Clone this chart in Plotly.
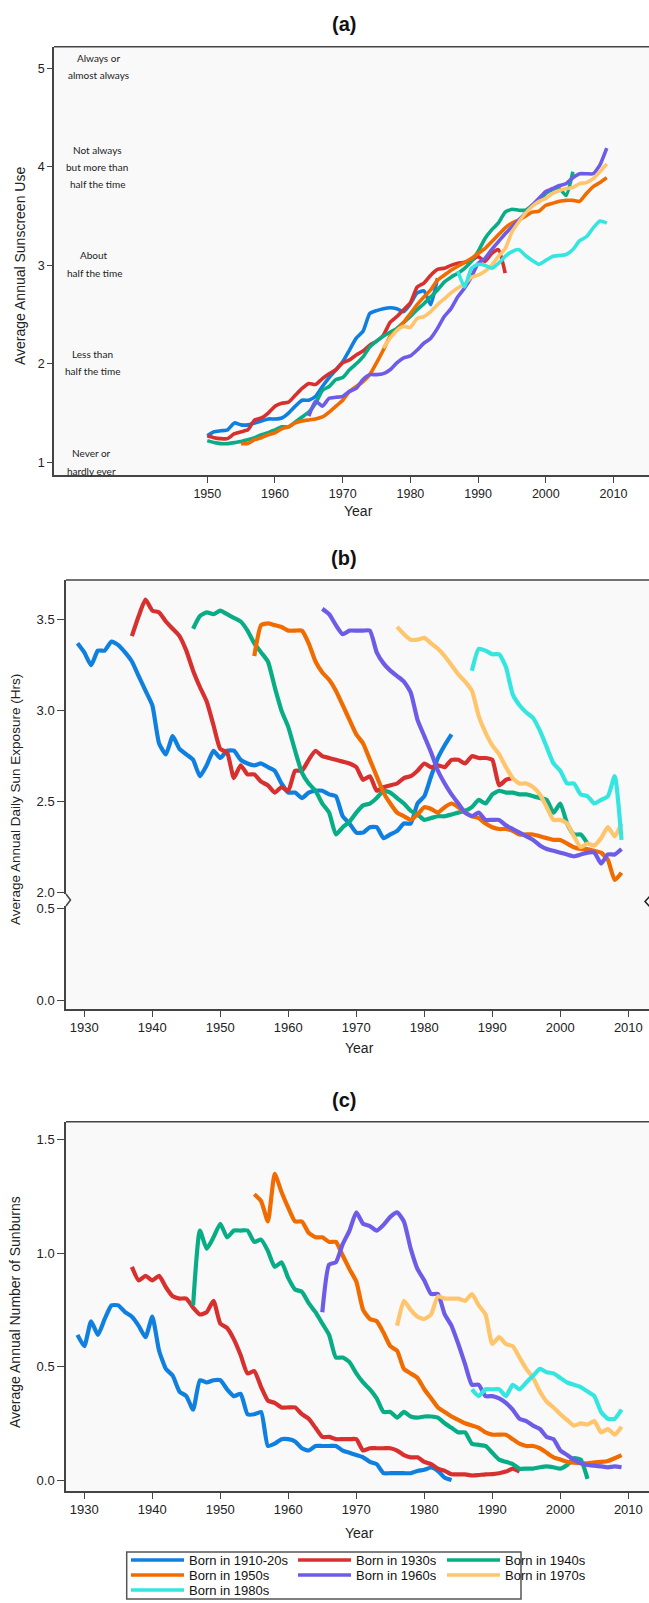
import plotly.graph_objects as go

W, H = 649, 1603
FONT = "Liberation Sans, Arial, sans-serif"


def px(x):
    return x / W


def py(y):
    return 1 - y / H


LABELS = ["Born in 1910-20s", "Born in 1930s", "Born in 1940s", "Born in 1950s",
          "Born in 1960s", "Born in 1970s", "Born in 1980s"]
COLORS = ["#0F7FE0", "#D7302F", "#08AD86", "#F06C00", "#6D5CE8", "#FFC56C", "#35E5E0"]

# ---------------- (a) Average annual sunscreen use ----------------
sun_start = [1950, 1950, 1950, 1955, 1965, 1976, 1987]
sunscreen_1910 = [1.27, 1.31, 1.32, 1.33, 1.40, 1.38, 1.38, 1.40, 1.42, 1.44,
                  1.44, 1.45, 1.50, 1.57, 1.63, 1.63, 1.67, 1.77, 1.86, 1.94,
                  2.02, 2.14, 2.26, 2.33, 2.51, 2.54, 2.56, 2.57, 2.56, 2.53,
                  2.61, 2.72, 2.74, 2.60, 2.87]
sunscreen_1930 = [1.27, 1.25, 1.24, 1.24, 1.29, 1.31, 1.33, 1.43, 1.45, 1.50,
                  1.57, 1.60, 1.61, 1.68, 1.75, 1.80, 1.79, 1.85, 1.90, 1.94,
                  2.01, 2.04, 2.09, 2.13, 2.19, 2.23, 2.29, 2.42, 2.48, 2.55,
                  2.62, 2.78, 2.82, 2.90, 2.96, 2.97, 3.00, 3.02, 3.03, 3.05,
                  3.09, 3.04, 3.12, 3.16, 2.92]
sunscreen_1940 = [1.22, 1.20, 1.19, 1.19, 1.20, 1.21, 1.23, 1.25, 1.28, 1.30,
                  1.33, 1.36, 1.36, 1.41, 1.46, 1.51, 1.60, 1.73, 1.77, 1.84,
                  1.86, 1.94, 2.00, 2.07, 2.17, 2.23, 2.28, 2.32, 2.36, 2.42,
                  2.48, 2.55, 2.61, 2.68, 2.75, 2.83, 2.88, 2.92, 2.97, 3.04,
                  3.14, 3.27, 3.36, 3.43, 3.54, 3.57, 3.56, 3.56, 3.61, 3.65,
                  3.73, 3.77, 3.78, 3.71, 3.95]
sunscreen_1950 = [1.19, 1.19, 1.23, 1.25, 1.28,
                  1.30, 1.34, 1.36, 1.40, 1.42, 1.43, 1.44, 1.46, 1.51, 1.57,
                  1.63, 1.72, 1.77, 1.82, 1.89, 2.01, 2.14, 2.28, 2.34, 2.42,
                  2.51, 2.60, 2.68, 2.75, 2.85, 2.90, 2.95, 2.99, 3.03, 3.07,
                  3.12, 3.17, 3.24, 3.31, 3.38, 3.43, 3.46, 3.50, 3.54, 3.55,
                  3.61, 3.63, 3.65, 3.66, 3.66, 3.65, 3.73, 3.80, 3.84, 3.89]
sunscreen_1960 = [1.47, 1.62, 1.57, 1.65, 1.66,
                  1.67, 1.72, 1.75, 1.84, 1.89, 1.89, 1.90, 1.94, 2.01, 2.06,
                  2.08, 2.14, 2.21, 2.26, 2.36, 2.48, 2.56, 2.68, 2.77, 2.88,
                  3.02, 3.07, 3.16, 3.24, 3.32, 3.39, 3.46, 3.53, 3.61, 3.68,
                  3.75, 3.78, 3.81, 3.83, 3.89, 3.93, 3.93, 3.93, 4.02, 4.19]
sunscreen_1970 = [2.16, 2.26, 2.34, 2.38,
                  2.37, 2.46, 2.48, 2.53, 2.60, 2.66, 2.72, 2.77, 2.81, 2.88,
                  2.90, 2.94, 3.00, 3.09, 3.17, 3.34, 3.44, 3.53, 3.60, 3.65,
                  3.68, 3.73, 3.76, 3.78, 3.79, 3.83, 3.84, 3.88, 3.95, 4.03]
sunscreen_1980 = [2.94, 2.78, 2.97,
                  3.01, 3.00, 2.97, 3.02, 3.09, 3.14, 3.16, 3.10, 3.05, 3.01,
                  3.05, 3.09, 3.10, 3.11, 3.16, 3.25, 3.29, 3.38, 3.45, 3.43]
SUNSCREEN = [sunscreen_1910, sunscreen_1930, sunscreen_1940, sunscreen_1950,
             sunscreen_1960, sunscreen_1970, sunscreen_1980]
SUNSCREEN_TICKS = [1950, 1960, 1970, 1980, 1990, 2000, 2010]
SUNSCREEN_CATS = [["Always or", "almost always"],
                  ["Not always", "but more than", "half the time"],
                  ["About", "half the time"],
                  ["Less than", "half the time"],
                  ["Never or", "hardly ever"]]

# ---------------- (b) Average annual daily sun exposure ----------------
exp_start = [1929, 1937, 1946, 1955, 1965, 1976, 1987]
exposure_1910 = [3.37,
                 3.32, 3.25, 3.33, 3.33, 3.38, 3.36, 3.32, 3.27, 3.19, 3.11,
                 3.03, 2.82, 2.76, 2.86, 2.79, 2.76, 2.73, 2.64, 2.70, 2.78,
                 2.74, 2.78, 2.78, 2.73, 2.71, 2.70, 2.71, 2.69, 2.67, 2.60,
                 2.55, 2.55, 2.52, 2.55, 2.56, 2.56, 2.54, 2.53, 2.42, 2.38,
                 2.33, 2.33, 2.36, 2.36, 2.30, 2.32, 2.34, 2.38, 2.38, 2.49,
                 2.53, 2.64, 2.74, 2.81, 2.87]
exposure_1930 = [3.41, 3.52, 3.61,
                 3.55, 3.54, 3.49, 3.45, 3.41, 3.33, 3.22, 3.13, 3.05, 2.92,
                 2.79, 2.77, 2.63, 2.70, 2.65, 2.65, 2.61, 2.59, 2.55, 2.58,
                 2.56, 2.67, 2.67, 2.73, 2.78, 2.75, 2.74, 2.73, 2.72, 2.71,
                 2.69, 2.62, 2.64, 2.56, 2.58, 2.59, 2.60, 2.63, 2.64, 2.67,
                 2.71, 2.69, 2.70, 2.69, 2.73, 2.73, 2.71, 2.75, 2.74, 2.74,
                 2.73, 2.59, 2.62, 2.63]
exposure_1940 = [3.45, 3.52, 3.54, 3.53,
                 3.55, 3.53, 3.51, 3.49, 3.44, 3.37, 3.32, 3.27, 3.13, 3.00,
                 2.91, 2.78, 2.66, 2.60, 2.56, 2.49, 2.44, 2.32, 2.36, 2.39,
                 2.44, 2.48, 2.49, 2.52, 2.56, 2.55, 2.52, 2.49, 2.45, 2.43,
                 2.40, 2.41, 2.42, 2.42, 2.43, 2.44, 2.45, 2.47, 2.51, 2.49,
                 2.54, 2.56, 2.55, 2.55, 2.54, 2.54, 2.53, 2.52, 2.51, 2.44,
                 2.49, 2.38, 2.32, 2.32, 2.27]
exposure_1950 = [3.30, 3.47, 3.48, 3.47, 3.46,
                 3.44, 3.44, 3.44, 3.37, 3.27, 3.21, 3.17, 3.11, 3.03, 2.95,
                 2.87, 2.82, 2.73, 2.64, 2.55, 2.49, 2.44, 2.42, 2.40, 2.43,
                 2.47, 2.46, 2.44, 2.47, 2.49, 2.47, 2.44, 2.42, 2.41, 2.38,
                 2.36, 2.35, 2.35, 2.34, 2.32, 2.32, 2.32, 2.31, 2.30, 2.29,
                 2.29, 2.27, 2.25, 2.24, 2.24, 2.23, 2.22, 2.18, 2.07, 2.11]
exposure_1960 = [3.56, 3.53, 3.47, 3.42, 3.44,
                 3.44, 3.44, 3.44, 3.32, 3.26, 3.22, 3.19, 3.16, 3.10, 2.95,
                 2.86, 2.77, 2.67, 2.60, 2.54, 2.49, 2.44, 2.42, 2.44, 2.40,
                 2.40, 2.40, 2.37, 2.35, 2.33, 2.31, 2.29, 2.26, 2.24, 2.23,
                 2.22, 2.21, 2.20, 2.21, 2.22, 2.22, 2.16, 2.21, 2.21, 2.24]
exposure_1970 = [3.46, 3.42, 3.39, 3.39,
                 3.40, 3.37, 3.34, 3.30, 3.25, 3.20, 3.16, 3.11, 2.97, 2.88,
                 2.81, 2.76, 2.69, 2.63, 2.60, 2.60, 2.58, 2.54, 2.47, 2.40,
                 2.40, 2.38, 2.31, 2.25, 2.27, 2.26, 2.30, 2.36, 2.31, 2.38]
exposure_1980 = [3.22, 3.34, 3.33,
                 3.31, 3.31, 3.24, 3.09, 3.03, 2.99, 2.96, 2.89, 2.80, 2.71,
                 2.67, 2.60, 2.60, 2.54, 2.53, 2.49, 2.51, 2.53, 2.64, 2.29]
EXPOSURE = [exposure_1910, exposure_1930, exposure_1940, exposure_1950,
            exposure_1960, exposure_1970, exposure_1980]

# ---------------- (c) Average annual number of sunburns ----------------
burn_start = [1929, 1937, 1946, 1955, 1965, 1976, 1987]
sunburn_1910 = [0.64,
                0.59, 0.70, 0.64, 0.71, 0.77, 0.77, 0.74, 0.72, 0.68, 0.63,
                0.72, 0.57, 0.49, 0.46, 0.39, 0.37, 0.31, 0.44, 0.43, 0.44,
                0.44, 0.40, 0.37, 0.38, 0.29, 0.29, 0.30, 0.15, 0.16, 0.18,
                0.18, 0.17, 0.14, 0.13, 0.15, 0.15, 0.15, 0.15, 0.13, 0.12,
                0.11, 0.10, 0.08, 0.07, 0.03, 0.03, 0.03, 0.03, 0.03, 0.04,
                0.045, 0.055, 0.04, 0.01, 0.00]
sunburn_1930 = [0.94, 0.88, 0.90,
                0.88, 0.90, 0.85, 0.81, 0.80, 0.80, 0.76, 0.73, 0.74, 0.79,
                0.69, 0.67, 0.62, 0.55, 0.47, 0.48, 0.41, 0.35, 0.34, 0.32,
                0.32, 0.32, 0.29, 0.27, 0.23, 0.19, 0.19, 0.18, 0.18, 0.18,
                0.18, 0.13, 0.14, 0.14, 0.14, 0.14, 0.13, 0.11, 0.10, 0.10,
                0.08, 0.07, 0.05, 0.04, 0.025, 0.025, 0.025, 0.02, 0.022, 0.025,
                0.026, 0.03, 0.037, 0.05, 0.037]
sunburn_1940 = [0.77, 1.10, 1.02, 1.07,
                1.13, 1.07, 1.10, 1.10, 1.10, 1.05, 1.06, 1.01, 0.94, 0.96,
                0.89, 0.84, 0.83, 0.78, 0.74, 0.69, 0.64, 0.54, 0.54, 0.52,
                0.47, 0.43, 0.40, 0.36, 0.30, 0.30, 0.275, 0.30, 0.28, 0.275,
                0.28, 0.28, 0.275, 0.25, 0.23, 0.21, 0.21, 0.16, 0.155, 0.15,
                0.12, 0.09, 0.08, 0.07, 0.05, 0.05, 0.05, 0.056, 0.06, 0.056,
                0.05, 0.066, 0.096, 0.09, 0.005]
sunburn_1950 = [1.26, 1.23, 1.14, 1.35, 1.27,
                1.20, 1.14, 1.14, 1.09, 1.07, 1.07, 1.05, 1.05, 0.99, 0.93,
                0.875, 0.75, 0.71, 0.70, 0.65, 0.59, 0.57, 0.49, 0.47, 0.45,
                0.40, 0.36, 0.32, 0.30, 0.28, 0.265, 0.25, 0.24, 0.23, 0.21,
                0.20, 0.20, 0.20, 0.18, 0.16, 0.15, 0.15, 0.14, 0.12, 0.10,
                0.09, 0.08, 0.076, 0.074, 0.074, 0.078, 0.08, 0.084, 0.096, 0.11]
sunburn_1960 = [0.74, 0.95, 0.96, 1.04, 1.10,
                1.18, 1.13, 1.12, 1.10, 1.125, 1.16, 1.18, 1.14, 1.02, 0.93,
                0.88, 0.82, 0.82, 0.73, 0.68, 0.60, 0.51, 0.42, 0.42, 0.37,
                0.37, 0.36, 0.34, 0.31, 0.27, 0.26, 0.24, 0.225, 0.19, 0.18,
                0.13, 0.11, 0.09, 0.074, 0.066, 0.063, 0.06, 0.056, 0.06, 0.056]
sunburn_1970 = [0.68, 0.79, 0.75, 0.72,
                0.71, 0.73, 0.81, 0.80, 0.80, 0.80, 0.79, 0.82, 0.77, 0.73,
                0.60, 0.63, 0.60, 0.59, 0.54, 0.49, 0.45, 0.39, 0.345, 0.32,
                0.29, 0.265, 0.24, 0.25, 0.245, 0.26, 0.21, 0.225, 0.20, 0.235]
sunburn_1980 = [0.40, 0.37, 0.40,
                0.40, 0.40, 0.37, 0.42, 0.40, 0.43, 0.46, 0.49, 0.475, 0.47,
                0.45, 0.43, 0.42, 0.41, 0.39, 0.37, 0.30, 0.27, 0.27, 0.31]
SUNBURN = [sunburn_1910, sunburn_1930, sunburn_1940, sunburn_1950,
           sunburn_1960, sunburn_1970, sunburn_1980]
DECADE_TICKS = [1930, 1940, 1950, 1960, 1970, 1980, 1990, 2000, 2010]

LEGEND_IDS = ["legend", "legend2", "legend3", "legend4", "legend5", "legend6", "legend7"]
SMOOTH = dict(shape="spline", smoothing=0.5)

fig = go.Figure()
for i, label in enumerate(LABELS):
    yrs = list(range(sun_start[i], sun_start[i] + len(SUNSCREEN[i])))
    fig.add_trace(go.Scatter(x=yrs, y=SUNSCREEN[i], mode="lines", name=label,
                             line=dict(color=COLORS[i], width=3.6, **SMOOTH),
                             legend=LEGEND_IDS[i], showlegend=True,
                             xaxis="x", yaxis="y"))
for i, label in enumerate(LABELS):
    yrs = list(range(exp_start[i], exp_start[i] + len(EXPOSURE[i])))
    fig.add_trace(go.Scatter(x=yrs, y=EXPOSURE[i], mode="lines", name=label,
                             line=dict(color=COLORS[i], width=4.2, **SMOOTH),
                             showlegend=False, xaxis="x2", yaxis="y2"))
# empty carrier trace so the lower (broken) part of panel (b) exists as a subplot
fig.add_trace(go.Scatter(x=[], y=[], mode="lines", showlegend=False,
                         hoverinfo="skip", xaxis="x2", yaxis="y3"))
for i, label in enumerate(LABELS):
    yrs = list(range(burn_start[i], burn_start[i] + len(SUNBURN[i])))
    fig.add_trace(go.Scatter(x=yrs, y=SUNBURN[i], mode="lines", name=label,
                             line=dict(color=COLORS[i], width=4.2, **SMOOTH),
                             showlegend=False, xaxis="x3", yaxis="y4"))

AX = dict(showgrid=False, zeroline=False, showline=True, linecolor="#444",
          linewidth=1.5, ticks="outside", tickcolor="#444", tickwidth=1.2,
          tickfont=dict(family=FONT, size=13, color="#222"))

fig.update_layout(
    width=W, height=H,
    margin=dict(l=0, r=0, t=0, b=0, autoexpand=False),
    paper_bgcolor="white", plot_bgcolor="rgba(0,0,0,0)",
    font=dict(family=FONT, color="#222"),
    xaxis=dict(AX, domain=[px(54), 1], range=[1927.36, 2015.24], anchor="y",
               tickvals=SUNSCREEN_TICKS, ticklen=6,
               tickfont=dict(family=FONT, size=12.5, color="#222")),
    yaxis=dict(AX, domain=[py(475), py(46.7)], range=[0.871, 5.22], anchor="x",
               tickvals=[1, 2, 3, 4, 5], ticklen=5,
               tickfont=dict(family=FONT, size=12.5, color="#222")),
    xaxis2=dict(AX, domain=[px(66), 1], range=[1927.31, 2013.04], anchor="y3",
                tickvals=DECADE_TICKS, ticklen=6),
    yaxis2=dict(AX, domain=[py(894), py(580)], range=[1.9929, 3.718], anchor="x2",
                tickvals=[2.0, 2.5, 3.0, 3.5], tickformat=".1f", ticklen=7),
    yaxis3=dict(AX, domain=[py(1009), py(906)], range=[-0.049, 0.5125], anchor="x2",
                tickvals=[0.0, 0.5], tickformat=".1f", ticklen=7),
    xaxis3=dict(AX, domain=[px(66), 1], range=[1927.31, 2013.04], anchor="y4",
                tickvals=DECADE_TICKS, ticklen=6),
    yaxis4=dict(AX, domain=[py(1491), py(1121.7)], range=[-0.0485, 1.58], anchor="x3",
                tickvals=[0.0, 0.5, 1.0, 1.5], tickformat=".1f", ticklen=7),
)

# legends: one per entry, laid out as 3 columns x 3 rows
leg_cols = [131, 298, 447]
leg_rows = [1561, 1576, 1591]
for i, lid in enumerate(LEGEND_IDS):
    col, row = i % 3, i // 3
    fig.update_layout(**{lid: dict(
        x=px(leg_cols[col] - 5), xanchor="left",
        y=py(leg_rows[row] - 1), yanchor="middle",
        orientation="v", bgcolor="rgba(0,0,0,0)", borderwidth=0,
        itemwidth=53, font=dict(family=FONT, size=13, color="#111"),
        tracegroupgap=0)})

shapes = []
# panel backgrounds and top frame lines
for x0, y0, y1 in [(54, 46.7, 475), (66, 580, 1009), (66, 1121.7, 1491)]:
    shapes.append(dict(type="rect", xref="paper", yref="paper", layer="below",
                       x0=px(x0), x1=1, y0=py(y1), y1=py(y0),
                       fillcolor="#F9F9F9", line=dict(width=0)))
    shapes.append(dict(type="line", xref="paper", yref="paper",
                       x0=px(x0), x1=1, y0=py(y0), y1=py(y0),
                       line=dict(color="#444", width=1.5)))
# axis-break marks on panel (b)
shapes.append(dict(type="path", xref="paper", yref="paper",
                   path=f"M{px(66)},{py(894)} L{px(70.5)},{py(900)} L{px(66)},{py(906)}",
                   line=dict(color="#444", width=1.5)))
shapes.append(dict(type="path", xref="paper", yref="paper",
                   path=f"M{px(650)},{py(896)} L{px(645)},{py(901.5)} L{px(650)},{py(907)}",
                   line=dict(color="#222", width=1.5)))
# legend box
shapes.append(dict(type="rect", xref="paper", yref="paper",
                   x0=px(126.7), x1=px(521), y0=py(1599), y1=py(1552),
                   line=dict(color="#555", width=1.5), fillcolor="rgba(0,0,0,0)"))

annotations = []


def ann(text, x, y, size, angle=0, family=FONT, color="#222"):
    annotations.append(dict(text=text, x=px(x), y=py(y), xref="paper", yref="paper",
                            showarrow=False, xanchor="center", yanchor="middle",
                            textangle=angle,
                            font=dict(family=family, size=size, color=color)))


for t, y in [("<b>(a)</b>", 24), ("<b>(b)</b>", 558), ("<b>(c)</b>", 1100)]:
    ann(t, 344, y, 20, color="#111")
ann("Year", 358, 511, 14)
ann("Year", 359, 1048, 14)
ann("Year", 359, 1533, 14)
ann("Average Annual Sunscreen Use", 20, 266, 14, angle=-90)
ann("Average Annual Daily Sun Exposure (Hrs)", 15, 800, 13.5, angle=-90)
ann("Average Annual Number of Sunburns", 15, 1312, 14, angle=-90)

cat_pos = [(98, [58, 75]), (97.4, [150, 167, 184]), (94.4, [255, 273]),
           (92.8, [354, 371]), (91.8, [453, 471])]
for lines, (cx, ys) in zip(SUNSCREEN_CATS, cat_pos):
    for txt, yy in zip(lines, ys):
        ann(txt, cx, yy, 10, family="Lato, Carlito, sans-serif", color="#222")

fig.update_layout(shapes=shapes, annotations=annotations)

fig.write_html("out.html",
               config={"displayModeBar": False},
               post_script="document.body.style.margin='0px';"
                           "document.body.style.overflow='hidden';")
